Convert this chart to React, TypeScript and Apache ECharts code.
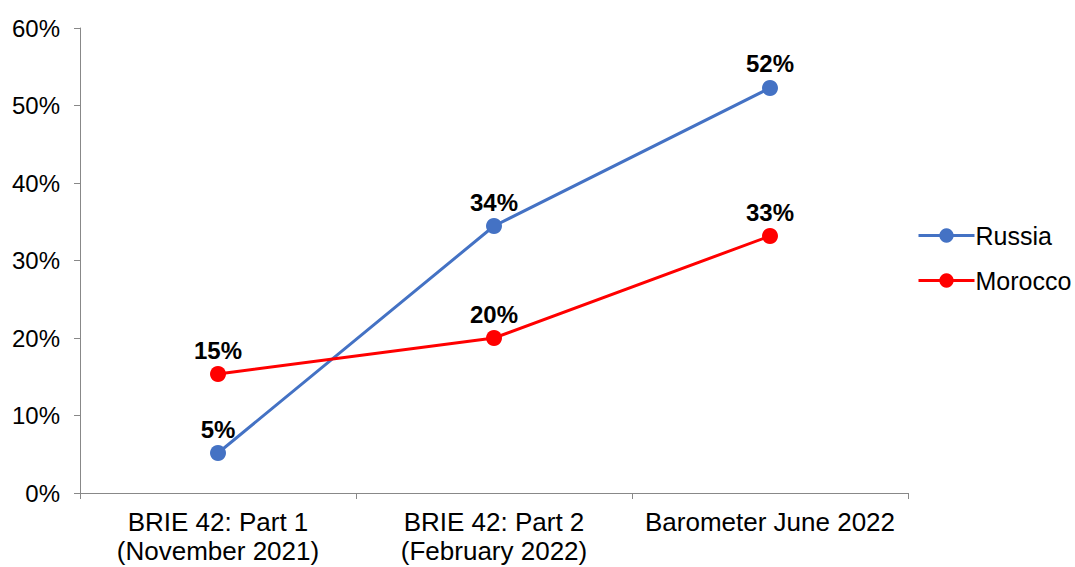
import React, { useEffect, useRef } from "react";
import * as echarts from "echarts";

const categories = ["BRIE 42: Part 1\n(November 2021)", "BRIE 42: Part 2\n(February 2022)", "Barometer June 2022"];
const russia = [5.16, 34.45, 52.26];
const morocco = [15.35, 20.0, 33.16];
const yTicks = [0, 10, 20, 30, 40, 50, 60];

export default function App() {
  const ref = useRef<HTMLDivElement>(null);
  useEffect(() => {
    const chart = echarts.init(ref.current!, null, { renderer: "svg" });
    const font = "Liberation Sans, Arial, sans-serif";
    const mkSeries = (name: string, data: number[], color: string) => ({
      name,
      type: "line",
      data,
      symbol: "circle",
      symbolSize: 16,
      itemStyle: { color },
      lineStyle: { color, width: 3 },
      label: {
        show: true,
        position: "top",
        distance: 4,
        formatter: (p: any) => Math.round(p.value) + "%",
        fontFamily: font,
        fontSize: 24,
        fontWeight: "bold",
        color: "#000",
      },
    });
    chart.setOption({
      animation: false,
      backgroundColor: "#fff",
      grid: { left: 80, right: 167, top: 28, bottom: 74 },
      legend: {
        orient: "vertical",
        left: 912,
        top: 218,
        itemWidth: 56,
        itemHeight: 18,
        itemGap: 20,
        lineStyle: { width: 3 },
        textStyle: { fontFamily: font, fontSize: 25, color: "#000", padding: [0, 0, 0, -4] },
        data: ["Russia", "Morocco"],
      },
      xAxis: {
        type: "category",
        data: categories,
        boundaryGap: true,
        axisLine: { lineStyle: { color: "#888", width: 1 } },
        axisTick: { show: true, length: 6, lineStyle: { color: "#888" } },
        axisLabel: {
          interval: 0,
          margin: 14,
          fontFamily: font,
          fontSize: 26,
          lineHeight: 29,
          color: "#000",
        },
      },
      yAxis: {
        type: "value",
        min: 0,
        max: 60,
        interval: 10,
        splitLine: { show: false },
        axisLine: { show: true, lineStyle: { color: "#888", width: 1 } },
        axisTick: { show: true, length: 6, lineStyle: { color: "#888" } },
        axisLabel: {
          margin: 20,
          fontFamily: font,
          fontSize: 24,
          color: "#000",
          formatter: (v: number) => (yTicks.includes(v) ? v + "%" : ""),
        },
      },
      series: [mkSeries("Russia", russia, "#4472C4"), mkSeries("Morocco", morocco, "#FF0000")],
    });
    return () => chart.dispose();
  }, []);
  return <div ref={ref} style={{ width: 1075, height: 567, position: "absolute", left: 0, top: 0 }} />;
}
